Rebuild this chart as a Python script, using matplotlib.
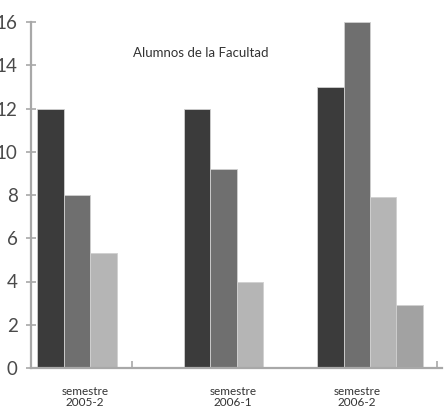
import matplotlib
matplotlib.use("Agg")
import matplotlib.pyplot as plt

# datos
categorias = ["semestre\n2005-2", "semestre\n2006-1", "semestre\n2006-2"]
serie1 = [12, 12, 13]
serie2 = [8, 9.2, 16]
serie3 = [5.3, 4, 7.9]
serie4 = [None, None, 2.9]
colores = ["#3b3b3b", "#6f6f6f", "#b5b5b5", "#a2a2a2"]
yticks = [0, 2, 4, 6, 8, 10, 12, 14, 16]

plt.rcParams["font.family"] = ["Lato", "DejaVu Sans"]

fig = plt.figure(figsize=(4.44, 4.07), dpi=100)
ax = fig.add_axes([31 / 444, 39 / 407, 411 / 444, 346 / 407])

ancho = 0.18
series = [serie1, serie2, serie3, serie4]
for i in range(len(categorias)):
    valores = [s[i] for s in series if s[i] is not None]
    cols = [colores[k] for k, s in enumerate(series) if s[i] is not None]
    n = len(valores)
    for j, (v, c) in enumerate(zip(valores, cols)):
        x = i + (j - (n - 1) / 2) * ancho
        ax.bar(x, v, width=ancho, color=c, edgecolor="#d0d0d0", linewidth=0.6)

ax.set_xlim(-0.314, 2.491)
ax.set_ylim(0, 16)

gris = "#a8a8a8"
for lado in ["top", "right"]:
    ax.spines[lado].set_visible(False)
for lado in ["left", "bottom"]:
    ax.spines[lado].set_color(gris)
    ax.spines[lado].set_linewidth(1.6)

ax.set_yticks(yticks)
ax.tick_params(axis="y", direction="inout", length=7, width=1.2, color=gris,
               labelsize=13.5, labelcolor="#4a4a4a", pad=6)
ax.set_xticks([0.375, 2.46])
ax.set_xticklabels([])
ax.tick_params(axis="x", direction="in", length=5, width=1.2, color=gris)

# etiquetas de categoría
posiciones = [0.055, 1.065, 1.91]
for p, t in zip(posiciones, categorias):
    ax.text(p, -0.85, t, ha="center", va="top", fontsize=8.5, color="#333333",
            linespacing=0.95, clip_on=False)

ax.text(0.847, 14.55, "Alumnos de la Facultad", ha="center", va="center",
        fontsize=9.5, color="#333333")

fig.savefig("out.png", dpi=100)
